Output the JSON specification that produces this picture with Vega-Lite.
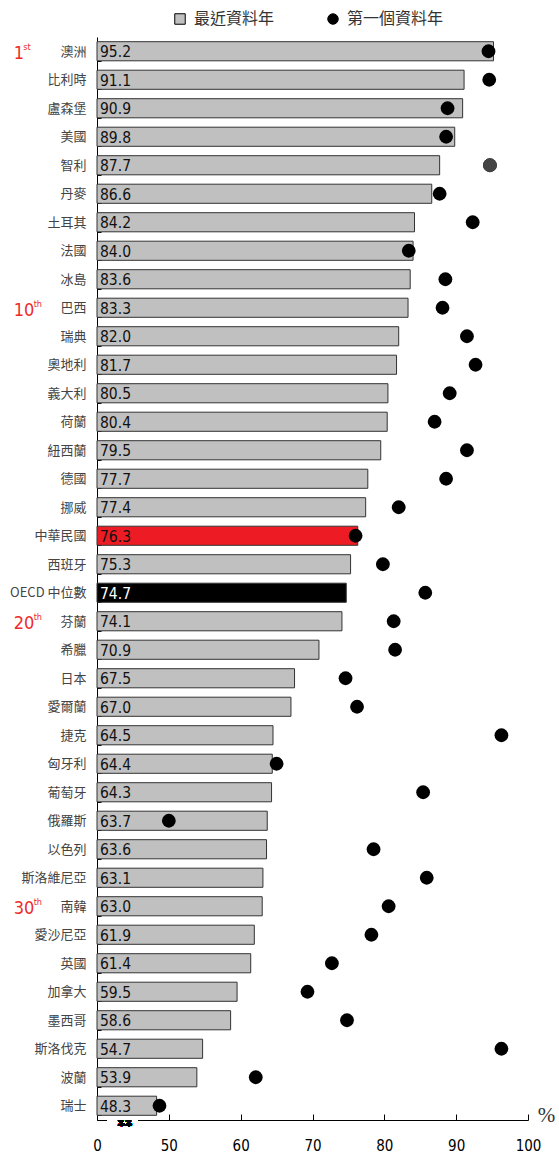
{
  "$schema": "https://vega.github.io/schema/vega-lite/v6.json",
  "width": 431,
  "height": 1083,
  "autosize": {"type": "none"},
  "padding": {"left": 97, "top": 37, "right": 31, "bottom": 36},
  "background": "white",
  "config": {"view": {"stroke": null}, "font": "DejaVu Sans Condensed"},
  "data": {"values": [
    {"country": "澳洲", "recent": 95.2, "first": 94.5, "rank": "1", "sup": "st"},
    {"country": "比利時", "recent": 91.1, "first": 94.6},
    {"country": "盧森堡", "recent": 90.9, "first": 88.8},
    {"country": "美國", "recent": 89.8, "first": 88.6},
    {"country": "智利", "recent": 87.7, "first": 94.7},
    {"country": "丹麥", "recent": 86.6, "first": 87.7},
    {"country": "土耳其", "recent": 84.2, "first": 92.3},
    {"country": "法國", "recent": 84.0, "first": 83.4},
    {"country": "冰島", "recent": 83.6, "first": 88.5},
    {"country": "巴西", "recent": 83.3, "first": 88.1, "rank": "10", "sup": "th"},
    {"country": "瑞典", "recent": 82.0, "first": 91.5},
    {"country": "奧地利", "recent": 81.7, "first": 92.7},
    {"country": "義大利", "recent": 80.5, "first": 89.1},
    {"country": "荷蘭", "recent": 80.4, "first": 87.0},
    {"country": "紐西蘭", "recent": 79.5, "first": 91.5},
    {"country": "德國", "recent": 77.7, "first": 88.6},
    {"country": "挪威", "recent": 77.4, "first": 82.0},
    {"country": "中華民國", "recent": 76.3, "first": 76.0},
    {"country": "西班牙", "recent": 75.3, "first": 79.8},
    {"country": "OECD 中位數", "recent": 74.7, "first": 85.7},
    {"country": "芬蘭", "recent": 74.1, "first": 81.3, "rank": "20", "sup": "th"},
    {"country": "希臘", "recent": 70.9, "first": 81.5},
    {"country": "日本", "recent": 67.5, "first": 74.6},
    {"country": "愛爾蘭", "recent": 67.0, "first": 76.2},
    {"country": "捷克", "recent": 64.5, "first": 96.3},
    {"country": "匈牙利", "recent": 64.4, "first": 65.0},
    {"country": "葡萄牙", "recent": 64.3, "first": 85.4},
    {"country": "俄羅斯", "recent": 63.7, "first": 50.0},
    {"country": "以色列", "recent": 63.6, "first": 78.5},
    {"country": "斯洛維尼亞", "recent": 63.1, "first": 85.9},
    {"country": "南韓", "recent": 63.0, "first": 80.6, "rank": "30", "sup": "th"},
    {"country": "愛沙尼亞", "recent": 61.9, "first": 78.2},
    {"country": "英國", "recent": 61.4, "first": 72.7},
    {"country": "加拿大", "recent": 59.5, "first": 69.3},
    {"country": "墨西哥", "recent": 58.6, "first": 74.8},
    {"country": "斯洛伐克", "recent": 54.7, "first": 96.3},
    {"country": "波蘭", "recent": 53.9, "first": 62.1},
    {"country": "瑞士", "recent": 48.3, "first": 48.7}
  ]},
  "encoding": {
    "y": {
      "field": "country", "type": "nominal", "sort": null,
      "scale": {"paddingInner": 0.33, "paddingOuter": 0.165},
      "axis": {
        "title": null, "domainColor": "#000", "domainWidth": 1,
        "tickColor": "#000", "tickSize": -4, "tickBand": "extent", "tickExtra": true,
        "labelPadding": 15, "labelFont": "Noto Sans CJK TC", "labelFontSize": 13,
        "labelColor": "#444", "labelLimit": 200
      }
    }
  },
  "layer": [
    {
      "mark": {"type": "bar", "stroke": "#333", "strokeWidth": 1},
      "encoding": {
        "x": {
          "field": "recent", "type": "quantitative",
          "scale": {"domain": [40, 100], "nice": false, "zero": false},
          "axis": {
            "values": [40, 50, 60, 70, 80, 90, 100],
            "labelExpr": "datum.value == 40 ? '0' : datum.label",
            "grid": false, "domainColor": "#000", "tickColor": "#000",
            "tickSize": -6, "labelPadding": 24, "labelFlush": false,
            "labelFontSize": 15, "labelColor": "#000", "labelFont": "DejaVu Sans Condensed",
            "title": "%", "titleX": 449, "titleY": 1, "titleAlign": "center",
            "titleBaseline": "alphabetic", "titleFont": "Liberation Serif",
            "titleFontSize": 21, "titleFontWeight": "normal", "titleColor": "#333"
          }
        },
        "x2": {"datum": 40},
        "fill": {
          "condition": [
            {"test": "datum.country === '中華民國'", "value": "#ed1c24"},
            {"test": "datum.country === 'OECD 中位數'", "value": "#000000"}
          ],
          "value": "#c0c0c0"
        }
      }
    },
    {
      "mark": {"type": "text", "align": "left", "dx": 3, "font": "DejaVu Sans Condensed", "fontSize": 15.5, "baseline": "middle", "dy": 1},
      "encoding": {
        "x": {"datum": 40},
        "text": {"field": "recent", "type": "quantitative", "format": ".1f"},
        "color": {"condition": {"test": "datum.country === 'OECD 中位數'", "value": "#ffffff"}, "value": "#111111"}
      }
    },
    {
      "mark": {"type": "point", "filled": true, "size": 190, "opacity": 1},
      "encoding": {
        "x": {"field": "first", "type": "quantitative"},
        "color": {
          "datum": "第一個資料年",
          "scale": {"domain": ["最近資料年", "第一個資料年"], "range": ["#c0c0c0", "#000000"]},
          "legend": {
            "title": null, "orient": "none", "legendX": 75, "legendY": -26,
            "direction": "horizontal", "columnPadding": 50, "symbolSize": 110,
            "labelFont": "Noto Sans CJK TC", "labelFontSize": 16, "labelColor": "#333",
            "labelOffset": 6, "padding": 0, "symbolStrokeColor": "#000", "symbolStrokeWidth": 1,
            "encode": {"symbols": {"update": {"stroke": {"value": "#000"}, "strokeWidth": {"value": 1}}}}
          }
        },
        "shape": {
          "datum": "第一個資料年",
          "scale": {"domain": ["最近資料年", "第一個資料年"], "range": ["square", "circle"]},
          "legend": {
            "title": null, "orient": "none", "legendX": 75, "legendY": -26,
            "direction": "horizontal", "columnPadding": 50, "symbolSize": 110,
            "labelFont": "Noto Sans CJK TC", "labelFontSize": 16, "labelColor": "#333",
            "labelOffset": 6, "padding": 0, "symbolStrokeColor": "#000", "symbolStrokeWidth": 1,
            "encode": {"symbols": {"update": {"stroke": {"value": "#000"}, "strokeWidth": {"value": 1}}}}
          }
        }
      }
    },
    {
      "transform": [{"filter": "datum.country === '智利'"}],
      "mark": {"type": "point", "filled": true, "size": 190, "opacity": 1, "color": "#444444", "shape": "circle"},
      "encoding": {"x": {"field": "first", "type": "quantitative"}}
    },
    {
      "mark": {"type": "rule", "color": "#ffffff", "strokeWidth": 3},
      "encoding": {"x": {"datum": 41.5}, "x2": {"datum": 45.7}, "y": {"value": {"expr": "height"}}}
    },
    {
      "mark": {"type": "text", "text": "ʑʑ", "align": "center", "baseline": "middle", "dy": 3, "fontSize": 11, "fontWeight": "bold", "font": "DejaVu Sans", "color": "#000"},
      "encoding": {"x": {"datum": 43.9}, "y": {"value": {"expr": "height"}}}
    },
    {
      "transform": [{"filter": "datum.rank"}],
      "mark": {"type": "text", "align": "left", "baseline": "middle", "dy": 3, "font": "DejaVu Sans Condensed", "fontSize": 18, "color": "#ee2a2a"},
      "encoding": {"x": {"datum": 28.4}, "text": {"field": "rank"}}
    },
    {
      "transform": [{"filter": "datum.rank === '1'"}],
      "mark": {"type": "text", "align": "left", "baseline": "middle", "dx": 9.5, "dy": -4, "font": "DejaVu Sans Condensed", "fontSize": 9, "color": "#ee2a2a"},
      "encoding": {"x": {"datum": 28.4}, "text": {"field": "sup"}}
    },
    {
      "transform": [{"filter": "datum.rank && datum.rank.length == 2"}],
      "mark": {"type": "text", "align": "left", "baseline": "middle", "dx": 20, "dy": -4, "font": "DejaVu Sans Condensed", "fontSize": 9, "color": "#ee2a2a"},
      "encoding": {"x": {"datum": 28.4}, "text": {"field": "sup"}}
    }
  ]
}
